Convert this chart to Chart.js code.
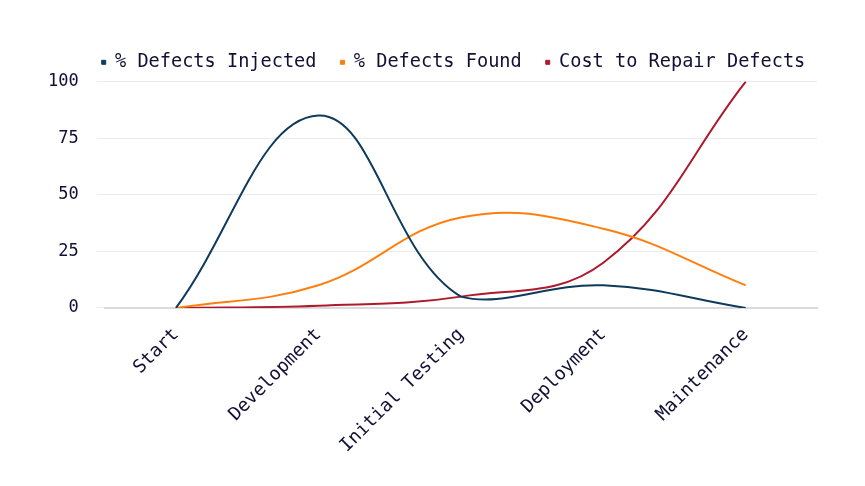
<!DOCTYPE html>
<html>
<head>
<meta charset="utf-8">
<script src="https://cdn.jsdelivr.net/npm/chart.js@4"></script>
<style>
    html, body { margin: 0; padding: 0; background: #ffffff; }
    #wrap { width: 865px; height: 486px; }
</style>
</head>
<body>
<div id="wrap"><canvas id="chart"></canvas></div>
<script>
const phases = ["Start", "Development", "Initial Testing", "Deployment", "Maintenance"];
const defectsInjected = [0, 85, 5, 10, 0];
const defectsFound = [0, 10, 40, 35, 10];
const repairCost = [0, 1, 5, 20, 100];

const textColor = "#120f35";
const monoFont = "'DejaVu Sans Mono', 'Liberation Mono', monospace";

// legend in the original sits a little right of the canvas centre
const legendNudge = {
    id: "legendNudge",
    afterLayout(chart) {
        chart.legend.left += 30;
        chart.legend.right += 30;
    }
};

const ctx = document.getElementById("chart").getContext("2d");

new Chart(ctx, {
    type: "line",
    data: {
        labels: phases,
        datasets: [
            {
                label: "% Defects Injected",
                data: defectsInjected,
                borderColor: "#0e3a5c",
                backgroundColor: "#0e3a5c"
            },
            {
                label: "% Defects Found",
                data: defectsFound,
                borderColor: "#ff7f0e",
                backgroundColor: "#ff7f0e"
            },
            {
                label: "Cost to Repair Defects",
                data: repairCost,
                borderColor: "#ad1a2c",
                backgroundColor: "#ad1a2c"
            }
        ]
    },
    options: {
        responsive: true,
        maintainAspectRatio: false,
        animation: false,
        layout: { padding: { top: 29, right: 48, left: 30, bottom: 21 } },
        elements: {
            line: { tension: 0.4, borderWidth: 2 },
            point: { radius: 0 }
        },
        plugins: {
            legend: {
                labels: {
                    color: textColor,
                    font: { family: monoFont, size: 18.6 },
                    usePointStyle: true,
                    pointStyle: "rect",
                    boxWidth: 4,
                    boxHeight: 4,
                    padding: 24
                }
            },
            tooltip: { enabled: false }
        },
        scales: {
            x: {
                offset: true,
                grid: { display: false },
                border: { color: "#d9d9de", width: 2 },
                ticks: {
                    color: textColor,
                    font: { family: monoFont, size: 18.4 },
                    maxRotation: 45,
                    minRotation: 45,
                    padding: 8
                }
            },
            y: {
                min: 0,
                max: 100,
                grid: { color: "#ececef" },
                border: { display: false },
                ticks: {
                    stepSize: 25,
                    color: textColor,
                    font: { family: monoFont, size: 17 },
                    padding: 18
                }
            }
        }
    },
    plugins: [legendNudge]
});
</script>
</body>
</html>
